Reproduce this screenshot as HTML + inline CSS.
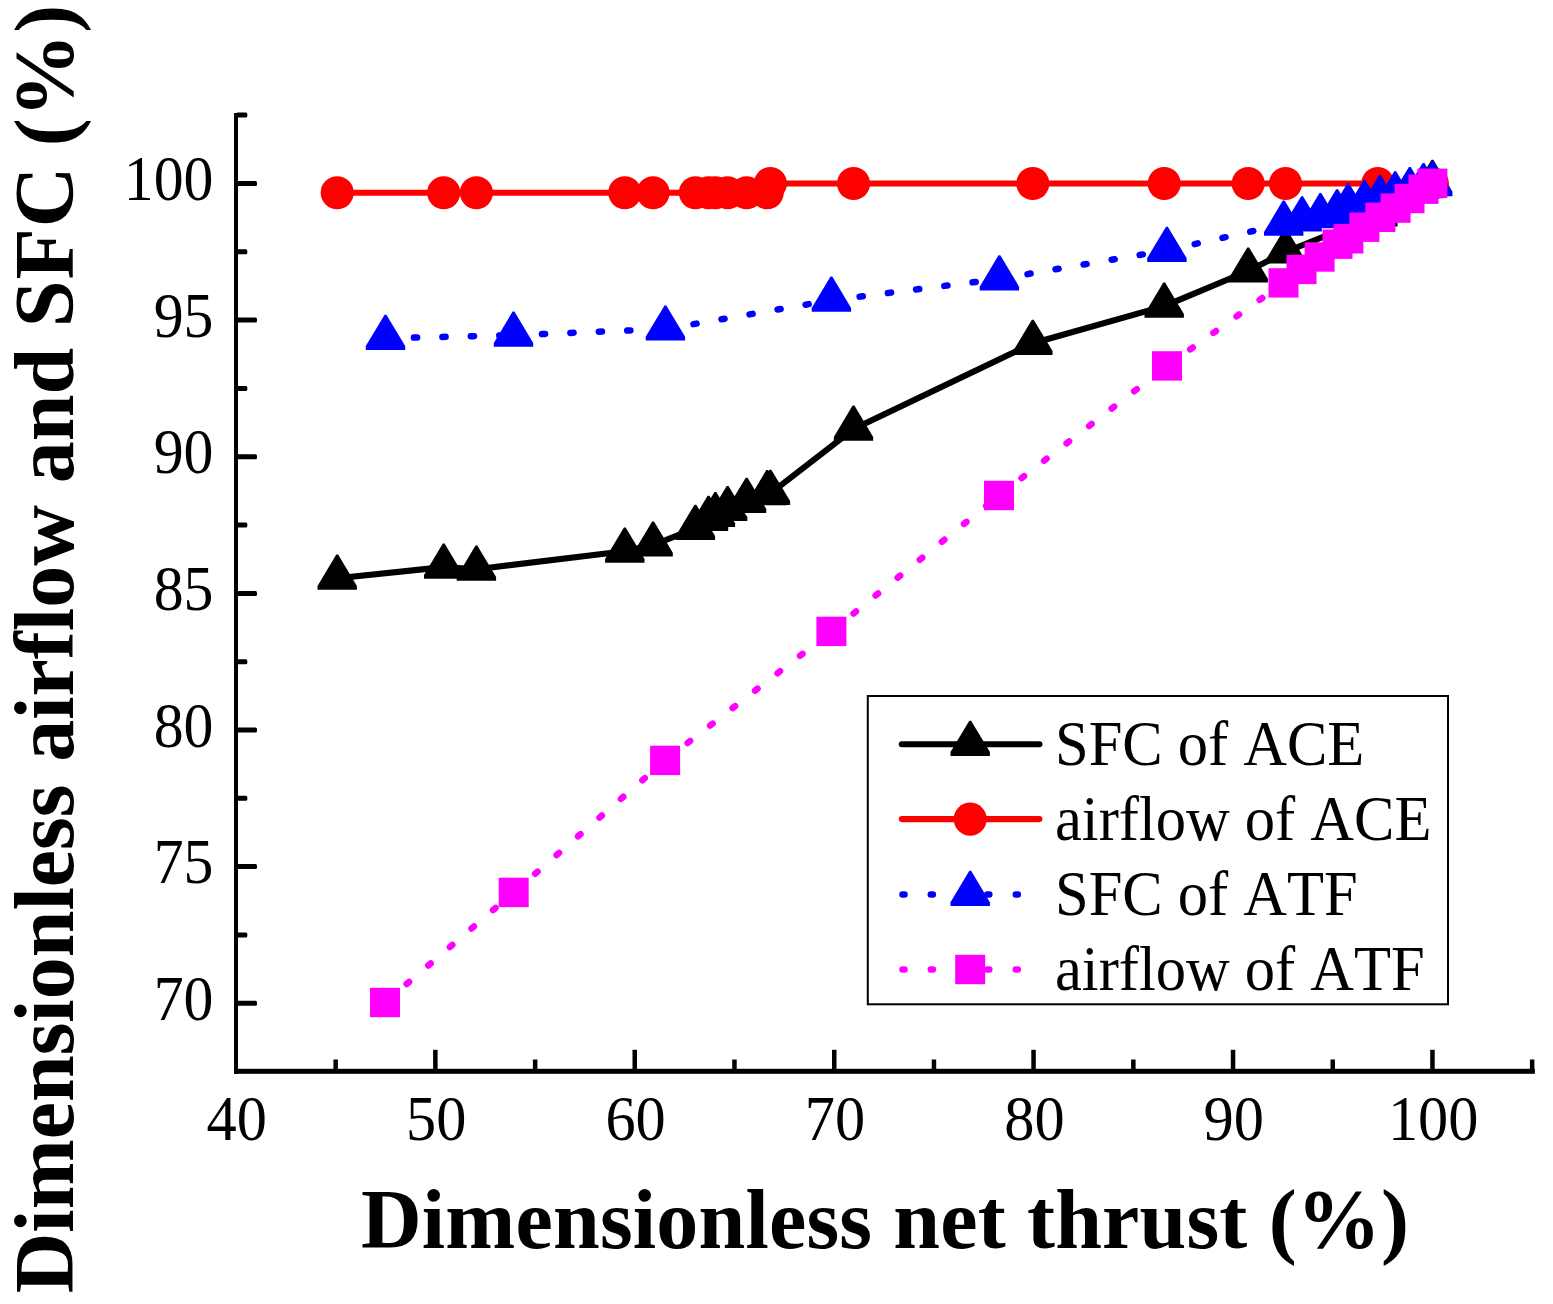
<!DOCTYPE html>
<html lang="en"><head><meta charset="utf-8"><title>Dimensionless airflow and SFC vs net thrust</title>
<style>
html,body{margin:0;padding:0;background:#fff;}
body{width:1553px;height:1304px;overflow:hidden;}
svg{display:block;}
text{font-family:"Liberation Serif","Times New Roman",Times,serif;fill:#000;font-kerning:none;font-variant-ligatures:none;}
.tick{font-size:61px;}
.leg{font-size:61px;}
.title{font-size:84px;font-weight:bold;}
</style></head><body>
<svg width="1553" height="1304" viewBox="0 0 1553 1304">
<rect x="0" y="0" width="1553" height="1304" fill="#fff"/>
<g id="axes" fill="#000">
<rect x="234.0" y="113.0" width="4.0" height="960.8"/>
<rect x="234.0" y="1068.8" width="1300.9" height="5.0"/>
<rect x="236.0" y="1000.8" width="21.0" height="5.0" rx="1.5"/>
<rect x="236.0" y="932.5" width="11.3" height="5.0" rx="1.5"/>
<rect x="236.0" y="864.1" width="21.0" height="5.0" rx="1.5"/>
<rect x="236.0" y="795.8" width="11.3" height="5.0" rx="1.5"/>
<rect x="236.0" y="727.5" width="21.0" height="5.0" rx="1.5"/>
<rect x="236.0" y="659.2" width="11.3" height="5.0" rx="1.5"/>
<rect x="236.0" y="590.9" width="21.0" height="5.0" rx="1.5"/>
<rect x="236.0" y="522.5" width="11.3" height="5.0" rx="1.5"/>
<rect x="236.0" y="454.2" width="21.0" height="5.0" rx="1.5"/>
<rect x="236.0" y="385.9" width="11.3" height="5.0" rx="1.5"/>
<rect x="236.0" y="317.5" width="21.0" height="5.0" rx="1.5"/>
<rect x="236.0" y="249.2" width="11.3" height="5.0" rx="1.5"/>
<rect x="236.0" y="180.9" width="21.0" height="5.0" rx="1.5"/>
<rect x="236.0" y="112.6" width="11.3" height="5.0" rx="1.5"/>
<rect x="333.4" y="1059.5" width="4.5" height="11.8"/>
<rect x="433.1" y="1049.8" width="4.5" height="21.5"/>
<rect x="532.9" y="1059.5" width="4.5" height="11.8"/>
<rect x="632.5" y="1049.8" width="4.5" height="21.5"/>
<rect x="732.2" y="1059.5" width="4.5" height="11.8"/>
<rect x="832.0" y="1049.8" width="4.5" height="21.5"/>
<rect x="931.7" y="1059.5" width="4.5" height="11.8"/>
<rect x="1031.3" y="1049.8" width="4.5" height="21.5"/>
<rect x="1131.1" y="1059.5" width="4.5" height="11.8"/>
<rect x="1230.8" y="1049.8" width="4.5" height="21.5"/>
<rect x="1330.5" y="1059.5" width="4.5" height="11.8"/>
<rect x="1430.2" y="1049.8" width="4.5" height="21.5"/>
<rect x="1529.9" y="1059.5" width="4.5" height="11.8"/>
</g>
<g id="ticklabels" class="tick">
<text transform="translate(213.5,1020.0) scale(0.98,1.04)" text-anchor="end">70</text>
<text transform="translate(213.5,883.4) scale(0.98,1.04)" text-anchor="end">75</text>
<text transform="translate(213.5,746.7) scale(0.98,1.04)" text-anchor="end">80</text>
<text transform="translate(213.5,610.1) scale(0.98,1.04)" text-anchor="end">85</text>
<text transform="translate(213.5,473.4) scale(0.98,1.04)" text-anchor="end">90</text>
<text transform="translate(213.5,336.7) scale(0.98,1.04)" text-anchor="end">95</text>
<text transform="translate(213.5,200.1) scale(0.98,1.04)" text-anchor="end">100</text>
<text transform="translate(236.8,1139.7) scale(0.99,1.04)" text-anchor="middle">40</text>
<text transform="translate(436.2,1139.7) scale(0.99,1.04)" text-anchor="middle">50</text>
<text transform="translate(635.6,1139.7) scale(0.99,1.04)" text-anchor="middle">60</text>
<text transform="translate(835.0,1139.7) scale(0.99,1.04)" text-anchor="middle">70</text>
<text transform="translate(1034.4,1139.7) scale(0.99,1.04)" text-anchor="middle">80</text>
<text transform="translate(1233.8,1139.7) scale(0.99,1.04)" text-anchor="middle">90</text>
<text transform="translate(1433.2,1139.7) scale(0.99,1.04)" text-anchor="middle">100</text>
</g>
<text class="title" x="361" y="1247.5" textLength="1048" lengthAdjust="spacing">Dimensionless net thrust (%)</text>
<text class="title" transform="translate(73.1,1293.3) rotate(-90)" y="0" xml:space="preserve"><tspan x="0">Dimensionless </tspan><tspan x="531.5">airflow </tspan><tspan x="810">and </tspan><tspan x="966" letter-spacing="1">SFC </tspan><tspan x="1147" letter-spacing="0.8">(%)</tspan></text>
<g id="s1">
<polyline points="337.2,578.2 443.7,567.1 476.4,569.2 624.8,551.2 653.1,545.0 695.4,528.3 708.5,519.3 715.4,515.5 727.6,509.5 746.6,501.3 767.2,493.7 770.4,493.3 853.5,429.1 1032.8,343.3 1164.2,306.1 1248.2,271.0 1285.5,252.0 1377.8,214.9 1432.4,183.4" fill="none" stroke="#000" stroke-width="6.1" stroke-linejoin="round"/>
<polygon points="336.3,554.6 338.1,554.6 356.9,586.0 356.9,589.8 317.5,589.8 317.5,586.0" fill="#000"/>
<polygon points="442.8,543.5 444.6,543.5 463.4,574.9 463.4,578.7 424.0,578.7 424.0,574.9" fill="#000"/>
<polygon points="475.5,545.6 477.3,545.6 496.1,577.0 496.1,580.8 456.7,580.8 456.7,577.0" fill="#000"/>
<polygon points="623.9,527.6 625.7,527.6 644.5,559.0 644.5,562.8 605.1,562.8 605.1,559.0" fill="#000"/>
<polygon points="652.2,521.4 654.0,521.4 672.8,552.8 672.8,556.6 633.4,556.6 633.4,552.8" fill="#000"/>
<polygon points="694.5,504.7 696.3,504.7 715.1,536.1 715.1,539.9 675.7,539.9 675.7,536.1" fill="#000"/>
<polygon points="707.6,495.7 709.4,495.7 728.2,527.1 728.2,530.9 688.8,530.9 688.8,527.1" fill="#000"/>
<polygon points="714.5,491.9 716.3,491.9 735.1,523.3 735.1,527.1 695.7,527.1 695.7,523.3" fill="#000"/>
<polygon points="726.7,485.9 728.5,485.9 747.3,517.3 747.3,521.1 707.9,521.1 707.9,517.3" fill="#000"/>
<polygon points="745.7,477.7 747.5,477.7 766.3,509.1 766.3,512.9 726.9,512.9 726.9,509.1" fill="#000"/>
<polygon points="766.3,470.1 768.1,470.1 786.9,501.5 786.9,505.3 747.5,505.3 747.5,501.5" fill="#000"/>
<polygon points="769.5,469.7 771.3,469.7 790.1,501.1 790.1,504.9 750.7,504.9 750.7,501.1" fill="#000"/>
<polygon points="852.6,405.5 854.4,405.5 873.2,436.9 873.2,440.7 833.8,440.7 833.8,436.9" fill="#000"/>
<polygon points="1031.9,319.7 1033.7,319.7 1052.5,351.1 1052.5,354.9 1013.1,354.9 1013.1,351.1" fill="#000"/>
<polygon points="1163.3,282.5 1165.1,282.5 1183.9,313.9 1183.9,317.7 1144.5,317.7 1144.5,313.9" fill="#000"/>
<polygon points="1247.3,247.4 1249.1,247.4 1267.9,278.8 1267.9,282.6 1228.5,282.6 1228.5,278.8" fill="#000"/>
<polygon points="1284.6,228.4 1286.4,228.4 1305.2,259.8 1305.2,263.6 1265.8,263.6 1265.8,259.8" fill="#000"/>
<polygon points="1376.9,191.3 1378.7,191.3 1397.5,222.7 1397.5,226.5 1358.1,226.5 1358.1,222.7" fill="#000"/>
<polygon points="1431.5,159.8 1433.3,159.8 1452.1,191.2 1452.1,195.0 1412.7,195.0 1412.7,191.2" fill="#000"/>
</g>
<g id="s2">
<polyline points="337.2,192.7 443.7,192.7 476.4,192.7 624.8,192.7 653.1,192.7 695.4,192.7 708.5,192.7 715.4,192.7 727.6,192.7 746.6,192.7 767.2,192.7 770.4,183.5 853.5,183.5 1032.8,183.5 1164.2,183.5 1248.2,183.5 1285.5,183.5 1377.8,183.5 1432.4,183.5" fill="none" stroke="#ff0000" stroke-width="6.1" stroke-linejoin="round"/>
<circle cx="337.2" cy="192.7" r="16.55" fill="#ff0000"/>
<circle cx="443.7" cy="192.7" r="16.55" fill="#ff0000"/>
<circle cx="476.4" cy="192.7" r="16.55" fill="#ff0000"/>
<circle cx="624.8" cy="192.7" r="16.55" fill="#ff0000"/>
<circle cx="653.1" cy="192.7" r="16.55" fill="#ff0000"/>
<circle cx="695.4" cy="192.7" r="16.55" fill="#ff0000"/>
<circle cx="708.5" cy="192.7" r="16.55" fill="#ff0000"/>
<circle cx="715.4" cy="192.7" r="16.55" fill="#ff0000"/>
<circle cx="727.6" cy="192.7" r="16.55" fill="#ff0000"/>
<circle cx="746.6" cy="192.7" r="16.55" fill="#ff0000"/>
<circle cx="767.2" cy="192.7" r="16.55" fill="#ff0000"/>
<circle cx="770.4" cy="183.5" r="16.55" fill="#ff0000"/>
<circle cx="853.5" cy="183.5" r="16.55" fill="#ff0000"/>
<circle cx="1032.8" cy="183.5" r="16.55" fill="#ff0000"/>
<circle cx="1164.2" cy="183.5" r="16.55" fill="#ff0000"/>
<circle cx="1248.2" cy="183.5" r="16.55" fill="#ff0000"/>
<circle cx="1285.5" cy="183.5" r="16.55" fill="#ff0000"/>
<circle cx="1377.8" cy="183.5" r="16.55" fill="#ff0000"/>
<circle cx="1432.4" cy="183.5" r="16.55" fill="#ff0000"/>
</g>
<g id="s3">
<g fill="none" stroke="#0000ff" stroke-width="6.5" stroke-linecap="round" stroke-dasharray="3.2 25.25" stroke-dashoffset="0.0"><line x1="385.5" y1="338.3" x2="513.5" y2="335.2"/><line x1="513.5" y1="335.2" x2="665.4" y2="329.0"/><line x1="665.4" y1="329.0" x2="831.4" y2="300.2"/><line x1="831.4" y1="300.2" x2="999.4" y2="278.9"/><line x1="999.4" y1="278.9" x2="1166.9" y2="250.3"/><line x1="1166.9" y1="250.3" x2="1283.7" y2="224.2"/><line x1="1283.7" y1="224.2" x2="1302.1" y2="219.8"/><line x1="1302.1" y1="219.8" x2="1320.4" y2="216.7"/><line x1="1320.4" y1="216.7" x2="1337.1" y2="212.8"/><line x1="1337.1" y1="212.8" x2="1348.2" y2="206.8"/><line x1="1348.2" y1="206.8" x2="1364.5" y2="203.7"/><line x1="1364.5" y1="203.7" x2="1380.0" y2="198.7"/><line x1="1380.0" y1="198.7" x2="1395.2" y2="194.8"/><line x1="1395.2" y1="194.8" x2="1409.8" y2="190.5"/><line x1="1409.8" y1="190.5" x2="1423.5" y2="186.7"/><line x1="1423.5" y1="186.7" x2="1432.7" y2="184.6"/></g>
<polygon points="384.6,314.7 386.4,314.7 405.2,346.1 405.2,349.9 365.8,349.9 365.8,346.1" fill="#0000ff"/>
<polygon points="512.6,311.6 514.4,311.6 533.2,343.0 533.2,346.8 493.8,346.8 493.8,343.0" fill="#0000ff"/>
<polygon points="664.5,305.4 666.3,305.4 685.1,336.8 685.1,340.6 645.7,340.6 645.7,336.8" fill="#0000ff"/>
<polygon points="830.5,276.6 832.3,276.6 851.1,308.0 851.1,311.8 811.7,311.8 811.7,308.0" fill="#0000ff"/>
<polygon points="998.5,255.3 1000.3,255.3 1019.1,286.7 1019.1,290.5 979.7,290.5 979.7,286.7" fill="#0000ff"/>
<polygon points="1166.0,226.7 1167.8,226.7 1186.6,258.1 1186.6,261.9 1147.2,261.9 1147.2,258.1" fill="#0000ff"/>
<polygon points="1282.8,200.6 1284.6,200.6 1303.4,232.0 1303.4,235.8 1264.0,235.8 1264.0,232.0" fill="#0000ff"/>
<polygon points="1301.2,196.2 1303.0,196.2 1321.8,227.6 1321.8,231.4 1282.4,231.4 1282.4,227.6" fill="#0000ff"/>
<polygon points="1319.5,193.1 1321.3,193.1 1340.1,224.5 1340.1,228.3 1300.7,228.3 1300.7,224.5" fill="#0000ff"/>
<polygon points="1336.2,189.2 1338.0,189.2 1356.8,220.6 1356.8,224.4 1317.4,224.4 1317.4,220.6" fill="#0000ff"/>
<polygon points="1347.3,183.2 1349.1,183.2 1367.9,214.6 1367.9,218.4 1328.5,218.4 1328.5,214.6" fill="#0000ff"/>
<polygon points="1363.6,180.1 1365.4,180.1 1384.2,211.5 1384.2,215.3 1344.8,215.3 1344.8,211.5" fill="#0000ff"/>
<polygon points="1379.1,175.1 1380.9,175.1 1399.7,206.5 1399.7,210.3 1360.3,210.3 1360.3,206.5" fill="#0000ff"/>
<polygon points="1394.3,171.2 1396.1,171.2 1414.9,202.6 1414.9,206.4 1375.5,206.4 1375.5,202.6" fill="#0000ff"/>
<polygon points="1408.9,166.9 1410.7,166.9 1429.5,198.3 1429.5,202.1 1390.1,202.1 1390.1,198.3" fill="#0000ff"/>
<polygon points="1422.6,163.1 1424.4,163.1 1443.2,194.5 1443.2,198.3 1403.8,198.3 1403.8,194.5" fill="#0000ff"/>
<polygon points="1431.8,161.0 1433.6,161.0 1452.4,192.4 1452.4,196.2 1413.0,196.2 1413.0,192.4" fill="#0000ff"/>
</g>
<g id="s4">
<g fill="none" stroke="#ff00ff" stroke-width="6.5" stroke-linecap="round" stroke-dasharray="3.2 25.25" stroke-dashoffset="0.0"><line x1="385.0" y1="1002.5" x2="513.7" y2="892.4"/><line x1="513.7" y1="892.4" x2="665.1" y2="760.4"/><line x1="665.1" y1="760.4" x2="831.4" y2="631.4"/><line x1="831.4" y1="631.4" x2="999.0" y2="495.5"/><line x1="999.0" y1="495.5" x2="1167.0" y2="365.9"/><line x1="1167.0" y1="365.9" x2="1283.5" y2="282.9"/><line x1="1283.5" y1="282.9" x2="1301.5" y2="269.4"/><line x1="1301.5" y1="269.4" x2="1319.6" y2="257.0"/><line x1="1319.6" y1="257.0" x2="1337.5" y2="244.2"/><line x1="1337.5" y1="244.2" x2="1348.4" y2="238.8"/><line x1="1348.4" y1="238.8" x2="1364.4" y2="227.2"/><line x1="1364.4" y1="227.2" x2="1380.4" y2="217.3"/><line x1="1380.4" y1="217.3" x2="1395.6" y2="208.1"/><line x1="1395.6" y1="208.1" x2="1409.5" y2="198.5"/><line x1="1409.5" y1="198.5" x2="1423.5" y2="189.2"/><line x1="1423.5" y1="189.2" x2="1432.4" y2="183.3"/></g>
<rect x="370.0" y="987.8" width="30.0" height="29.4" fill="#ff00ff"/>
<rect x="498.7" y="877.7" width="30.0" height="29.4" fill="#ff00ff"/>
<rect x="650.1" y="745.7" width="30.0" height="29.4" fill="#ff00ff"/>
<rect x="816.4" y="616.7" width="30.0" height="29.4" fill="#ff00ff"/>
<rect x="984.0" y="480.8" width="30.0" height="29.4" fill="#ff00ff"/>
<rect x="1152.0" y="351.2" width="30.0" height="29.4" fill="#ff00ff"/>
<rect x="1268.5" y="268.2" width="30.0" height="29.4" fill="#ff00ff"/>
<rect x="1286.5" y="254.7" width="30.0" height="29.4" fill="#ff00ff"/>
<rect x="1304.6" y="242.3" width="30.0" height="29.4" fill="#ff00ff"/>
<rect x="1322.5" y="229.5" width="30.0" height="29.4" fill="#ff00ff"/>
<rect x="1333.4" y="224.1" width="30.0" height="29.4" fill="#ff00ff"/>
<rect x="1349.4" y="212.5" width="30.0" height="29.4" fill="#ff00ff"/>
<rect x="1365.4" y="202.6" width="30.0" height="29.4" fill="#ff00ff"/>
<rect x="1380.6" y="193.4" width="30.0" height="29.4" fill="#ff00ff"/>
<rect x="1394.5" y="183.8" width="30.0" height="29.4" fill="#ff00ff"/>
<rect x="1408.5" y="174.5" width="30.0" height="29.4" fill="#ff00ff"/>
<rect x="1417.4" y="168.6" width="30.0" height="29.4" fill="#ff00ff"/>
</g>
<g id="legend">
<rect x="867.8" y="696" width="580.2" height="308.3" fill="#fff" stroke="#000" stroke-width="2"/>
<line x1="901.8" y1="744.3" x2="1039.4" y2="744.3" stroke="#000" stroke-width="6.1" stroke-linecap="round"/>
<polygon points="969.3,720.7 971.1,720.7 989.9,752.1 989.9,755.9 950.5,755.9 950.5,752.1" fill="#000"/>
<line x1="901.8" y1="819.1" x2="1039.4" y2="819.1" stroke="#ff0000" stroke-width="6.1" stroke-linecap="round"/>
<circle cx="970.2" cy="819.1" r="16.55" fill="#ff0000"/>
<line x1="902.5" y1="894.4" x2="904.5" y2="894.4" stroke="#0000ff" stroke-width="6.5" stroke-linecap="round"/>
<line x1="930.8" y1="894.4" x2="932.8" y2="894.4" stroke="#0000ff" stroke-width="6.5" stroke-linecap="round"/>
<line x1="987.3" y1="894.4" x2="989.3" y2="894.4" stroke="#0000ff" stroke-width="6.5" stroke-linecap="round"/>
<line x1="1015.8" y1="894.4" x2="1017.8" y2="894.4" stroke="#0000ff" stroke-width="6.5" stroke-linecap="round"/>
<line x1="902.5" y1="969.5" x2="904.5" y2="969.5" stroke="#ff00ff" stroke-width="6.5" stroke-linecap="round"/>
<line x1="930.8" y1="969.5" x2="932.8" y2="969.5" stroke="#ff00ff" stroke-width="6.5" stroke-linecap="round"/>
<line x1="987.3" y1="969.5" x2="989.3" y2="969.5" stroke="#ff00ff" stroke-width="6.5" stroke-linecap="round"/>
<line x1="1015.8" y1="969.5" x2="1017.8" y2="969.5" stroke="#ff00ff" stroke-width="6.5" stroke-linecap="round"/>
<polygon points="969.3,870.8 971.1,870.8 989.9,902.2 989.9,906.0 950.5,906.0 950.5,902.2" fill="#0000ff"/>
<rect x="955.2" y="954.8" width="30.0" height="29.4" fill="#ff00ff"/>
<text class="leg" transform="translate(1055,764.5) scale(0.992,1.04)">SFC of ACE</text>
<text class="leg" transform="translate(1055,840.0) scale(0.992,1.04)">airflow of ACE</text>
<text class="leg" transform="translate(1055,915.4) scale(0.992,1.04)">SFC of ATF</text>
<text class="leg" transform="translate(1055,990.2) scale(0.992,1.04)">airflow of ATF</text>
</g>
</svg>
</body></html>
